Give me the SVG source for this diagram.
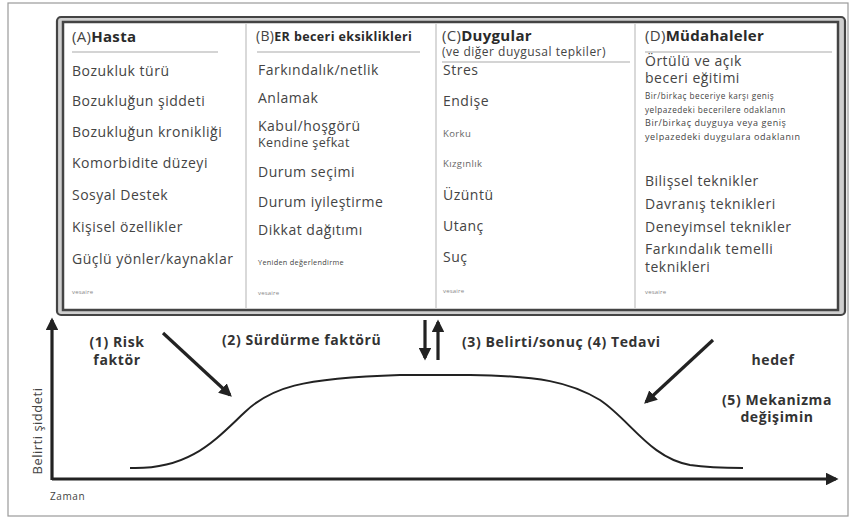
<svg xmlns="http://www.w3.org/2000/svg" width="855" height="518" viewBox="0 0 855 518">
<style>
  .t{font-family:"Open Sans","Liberation Sans",sans-serif;fill:#444;}
  .it{font-size:14px;letter-spacing:0.5px;}
  .hd{font-size:15px;letter-spacing:0.3px;}
  .b{font-weight:bold;fill:#2a2a2a;}
  .tiny{font-size:6px;fill:#888;letter-spacing:0.2px;}
  .sm{font-size:9.5px;fill:#666;letter-spacing:0.4px;}
  .lbl{font-family:"Open Sans","Liberation Sans",sans-serif;font-weight:bold;font-size:14px;letter-spacing:0.6px;fill:#333;}
  .ul{stroke:#aaa;stroke-width:1.2;}
  .div{stroke:#ccc;stroke-width:1.5;}
  .arr{stroke:#222;stroke-width:3.2;fill:none;}
</style>
<defs>
  <marker id="ah" viewBox="0 0 10 10" refX="8" refY="5" markerWidth="4" markerHeight="4" orient="auto" markerUnits="strokeWidth">
    <path d="M0,0 L10,5 L0,10 Z" fill="#222"/>
  </marker>
</defs>
<rect x="0" y="0" width="855" height="518" fill="#fff"/>
<rect x="8" y="3" width="840" height="513" fill="none" stroke="#9a9a9a" stroke-width="1.2"/>

<g id="panel">
  <rect x="57" y="17" width="788" height="298" rx="4" fill="#cfcfcf" stroke="#444" stroke-width="2.2"/>
  <rect x="63" y="22" width="775" height="288" fill="#fff" stroke="#444" stroke-width="2.5"/>
  <line class="div" x1="246" y1="24" x2="246" y2="308"/>
  <line class="div" x1="436" y1="24" x2="436" y2="308"/>
  <line class="div" x1="635" y1="24" x2="635" y2="308"/>
</g>

<g id="colA">
  <text class="t hd" x="72" y="42">(A)<tspan class="b">Hasta</tspan></text>
  <line class="ul" x1="72" y1="52" x2="218" y2="52"/>
  <text class="t it" x="72" y="76">Bozukluk türü</text>
  <text class="t it" x="72" y="106">Bozukluğun şiddeti</text>
  <text class="t it" x="72" y="137">Bozukluğun kronikliği</text>
  <text class="t it" x="72" y="168">Komorbidite düzeyi</text>
  <text class="t it" x="72" y="200">Sosyal Destek</text>
  <text class="t it" x="72" y="232">Kişisel özellikler</text>
  <text class="t it" x="72" y="264">Güçlü yönler/kaynaklar</text>
  <text class="t tiny" x="72" y="294">vesaire</text>
</g>

<g id="colB">
  <text class="t" x="256" y="41" font-size="14" letter-spacing="0.3">(B)<tspan class="b" font-size="12.5" letter-spacing="0.4">ER beceri eksiklikleri</tspan></text>
  <line class="ul" x1="257" y1="52" x2="420" y2="52"/>
  <text class="t it" x="258" y="75">Farkındalık/netlik</text>
  <text class="t it" x="258" y="103">Anlamak</text>
  <text class="t it" x="258" y="131">Kabul/hoşgörü</text>
  <text class="t" x="258" y="147" font-size="12.5" letter-spacing="0.4">Kendine şefkat</text>
  <text class="t it" x="258" y="177">Durum seçimi</text>
  <text class="t it" x="258" y="207">Durum iyileştirme</text>
  <text class="t it" x="258" y="235">Dikkat dağıtımı</text>
  <text class="t" x="258" y="265" font-size="7.3" fill="#888" letter-spacing="0.3">Yeniden değerlendirme</text>
  <text class="t tiny" x="258" y="295">vesaire</text>
</g>

<g id="colC">
  <text class="t hd" x="442" y="41">(C)<tspan class="b">Duygular</tspan></text>
  <text class="t" x="442" y="56" font-size="12" letter-spacing="0.5">(ve diğer duygusal tepkiler)</text>
  <line class="ul" x1="442" y1="62" x2="630" y2="62"/>
  <text class="t it" x="443" y="75">Stres</text>
  <text class="t it" x="443" y="106">Endişe</text>
  <text class="t sm" x="443" y="137">Korku</text>
  <text class="t sm" x="443" y="167">Kızgınlık</text>
  <text class="t it" x="443" y="200">Üzüntü</text>
  <text class="t it" x="443" y="231">Utanç</text>
  <text class="t it" x="443" y="262">Suç</text>
  <text class="t tiny" x="443" y="293">vesaire</text>
</g>

<g id="colD">
  <text class="t hd" x="645" y="41">(D)<tspan class="b">Müdahaleler</tspan></text>
  <line class="ul" x1="645" y1="52" x2="832" y2="52"/>
  <text class="t it" x="645" y="66">Örtülü ve açık</text>
  <text class="t it" x="645" y="83">beceri eğitimi</text>
  <text class="t" x="645" y="99" font-size="8.2" fill="#888" letter-spacing="0.5">Bir/birkaç beceriye karşı geniş</text>
  <text class="t" x="645" y="113" font-size="8.2" fill="#888" letter-spacing="0.5">yelpazedeki becerilere odaklanın</text>
  <text class="t" x="645" y="126" font-size="9" fill="#777" letter-spacing="0.6">Bir/birkaç duyguya veya geniş</text>
  <text class="t" x="645" y="140" font-size="9" fill="#777" letter-spacing="0.6">yelpazedeki duygulara odaklanın</text>
  <text class="t it" x="645" y="186">Bilişsel teknikler</text>
  <text class="t it" x="645" y="209">Davranış teknikleri</text>
  <text class="t it" x="645" y="232">Deneyimsel teknikler</text>
  <text class="t it" x="645" y="254">Farkındalık temelli</text>
  <text class="t it" x="645" y="272">teknikleri</text>
  <text class="t tiny" x="645" y="294">vesaire</text>
</g>

<g id="chart">
  <path d="M130,468 C190,470 215,440 245,412 C270,388 300,378 400,375 L470,375 C540,376 570,382 600,400 C630,420 650,458 690,465 C710,468 725,468 743,468" fill="none" stroke="#222" stroke-width="2"/>
  <text class="t" x="0" y="0" font-size="13" fill="#555" letter-spacing="0.5" text-anchor="middle" transform="translate(42,431) rotate(-90)">Belirti şiddeti</text>
  <text class="t" x="50" y="500" font-size="10" fill="#555" letter-spacing="0.6">Zaman</text>
</g>

<g id="labels">
  <text class="lbl" x="117" y="347" text-anchor="middle">(1) Risk</text>
  <text class="lbl" x="117" y="365" text-anchor="middle">faktör</text>
  <text class="lbl" x="222" y="345">(2) Sürdürme faktörü</text>
  <text class="lbl" x="462" y="347">(3) Belirti/sonuç (4) Tedavi</text>
  <text class="lbl" x="773" y="365" text-anchor="middle">hedef</text>
  <text class="lbl" x="777" y="405" text-anchor="middle">(5) Mekanizma</text>
  <text class="lbl" x="777" y="422" text-anchor="middle">değişimin</text>
</g>

<g id="connectors">
  <line class="arr" x1="52" y1="480" x2="52" y2="320" marker-end="url(#ah)"/>
  <line class="arr" x1="52" y1="479" x2="836" y2="479" marker-end="url(#ah)"/>
  <line class="arr" x1="163" y1="333" x2="230" y2="395" marker-end="url(#ah)"/>
  <line class="arr" x1="425" y1="320" x2="425" y2="358" marker-end="url(#ah)"/>
  <line class="arr" x1="438" y1="360" x2="438" y2="322" marker-end="url(#ah)"/>
  <line class="arr" x1="713" y1="340" x2="646" y2="402" marker-end="url(#ah)"/>
</g>
</svg>
